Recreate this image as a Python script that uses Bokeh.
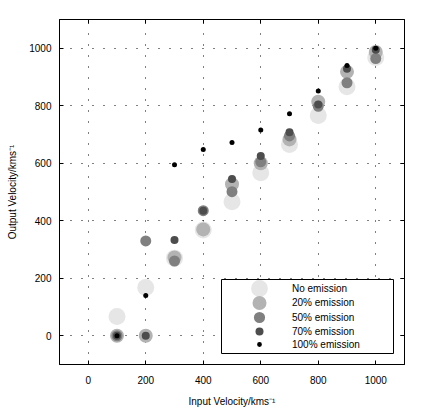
from bokeh.plotting import figure
from bokeh.models import LinearAxis, Legend, LegendItem, Range1d, FixedTicker, BoxAnnotation
from bokeh.embed import file_html
from bokeh.resources import INLINE

# Data
input_velocity = [100, 200, 300, 400, 500, 600, 700, 800, 900, 1000]
no_emission = [67, 168, 270, 368, 466, 567, 665, 766, 866, 968]
emission_20 = [0, 0, 272, 370, 527, 600, 683, 814, 918, 987]
emission_50 = [0, 330, 260, 435, 501, 605, 695, 798, 880, 964]
emission_70 = [0, 0, 333, 435, 545, 625, 708, 804, 929, 995]
emission_100 = [0, 140, 595, 648, 672, 716, 772, 851, 940, 1000]
tick_values = [0, 200, 400, 600, 800, 1000]

series = [
    ("No emission", no_emission, "#e6e6e6", 17),
    ("20% emission", emission_20, "#b3b3b3", 14),
    ("50% emission", emission_50, "#808080", 11),
    ("70% emission", emission_70, "#4d4d4d", 8),
    ("100% emission", emission_100, "#000000", 5),
]

FONT = "Liberation Sans"

p = figure(
    output_backend="svg", toolbar_location=None,
    width=436, height=411,
    x_range=Range1d(-100, 1100), y_range=Range1d(-100, 1100),
    min_border_left=59, min_border_right=32, min_border_top=19, min_border_bottom=47,
    x_axis_label="Input Velocity/kms⁻¹", y_axis_label="Output Velocity/kms⁻¹",
)
p.outline_line_color = "black"
p.outline_line_width = 1
p.background_fill_color = "white"
p.border_fill_color = "white"

for ax in (p.xaxis[0], p.yaxis[0]):
    ax.ticker = FixedTicker(ticks=tick_values)
    ax.major_tick_in = 4
    ax.major_tick_out = 0
    ax.minor_tick_in = 0
    ax.minor_tick_out = 0
    ax.axis_line_color = "black"
    ax.major_tick_line_color = "black"
    ax.major_label_text_font = FONT
    ax.major_label_text_font_size = "10px"
    ax.major_label_text_color = "black"
    ax.axis_label_text_font = FONT
    ax.axis_label_text_font_size = "10px"
    ax.axis_label_text_font_style = "normal"
    ax.axis_label_text_color = "black"

p.xaxis[0].major_label_standoff = 11
p.xaxis[0].axis_label_standoff = 9
p.yaxis[0].major_label_standoff = 8
p.yaxis[0].axis_label_standoff = 8

for loc in ("above", "right"):
    ax = LinearAxis(ticker=FixedTicker(ticks=tick_values))
    ax.major_tick_in = 4
    ax.major_tick_out = 0
    ax.minor_tick_in = 0
    ax.minor_tick_out = 0
    ax.major_label_overrides = {v: "" for v in tick_values}
    ax.major_label_text_font_size = "1px"
    ax.major_label_standoff = 0
    ax.axis_line_color = "black"
    p.add_layout(ax, loc)

for g in (p.xgrid[0], p.ygrid[0]):
    g.ticker = FixedTicker(ticks=tick_values)
    g.grid_line_color = "black"
    g.grid_line_dash = "1 10"
    g.grid_line_width = 1

renderers = []
for name, vals, color, size in series:
    r = p.scatter(input_velocity, vals, size=size, fill_color=color, line_color=None)
    renderers.append(r)

# Legend frame (screen px, relative to the plot frame's lower-left corner)
box = BoxAnnotation(left=162, right=334, bottom=11, top=85,
                    left_units="screen", right_units="screen",
                    bottom_units="screen", top_units="screen",
                    fill_color="white", fill_alpha=1,
                    line_color="black", line_width=1, line_alpha=1)
p.add_layout(box)

# One legend per series so that each legend marker keeps its own size
item_centers = [76, 62, 47, 33, 20]
for (name, vals, color, size), r, cy in zip(series, renderers, item_centers):
    h = int(round(size / 0.4))
    lg = Legend(items=[LegendItem(label=name, renderers=[r])],
                location=(178, int(round(cy - h / 2))))
    lg.border_line_color = None
    lg.background_fill_alpha = 0
    lg.padding = 0
    lg.margin = 0
    lg.spacing = 0
    lg.glyph_width = 44
    lg.glyph_height = h
    lg.label_height = h
    lg.label_width = 10
    lg.label_standoff = 11
    lg.label_text_font = FONT
    lg.label_text_font_size = "10px"
    lg.label_text_color = "black"
    lg.label_text_baseline = "middle"
    p.add_layout(lg)

open("out.html", "w").write(file_html(p, INLINE))
